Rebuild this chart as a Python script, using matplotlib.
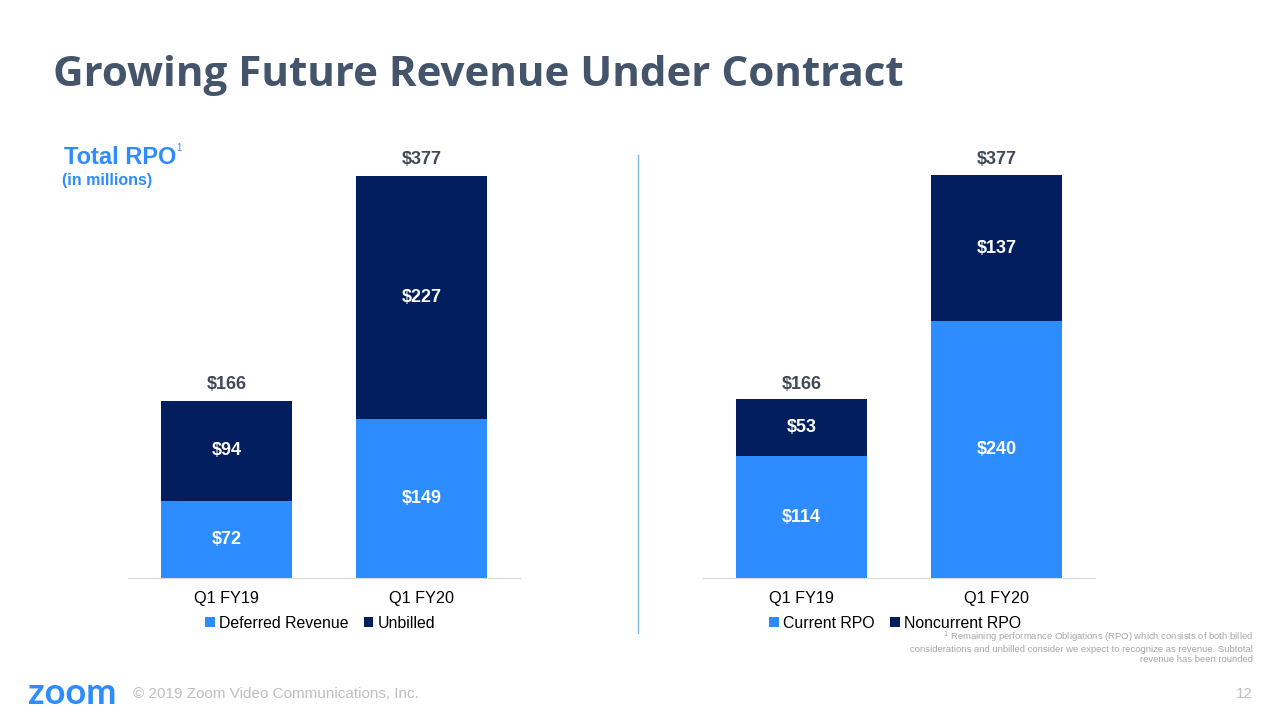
import numpy as np
import matplotlib.pyplot as plt

plt.rcParams['font.family'] = ['Liberation Sans', 'DejaVu Sans']

# データ（単位：百万ドル）
quarters = ["Q1 FY19", "Q1 FY20"]
deferred = [72, 149]
unbilled = [94, 227]
current_rpo = [114, 240]
noncurrent_rpo = [53, 137]
totals = [166, 377]

LIGHT = "#2D8CFF"
DARK = "#021E5E"
TOTAL_C = "#404A58"

fig = plt.figure(figsize=(12.8, 7.2), dpi=100)

fig.text(53/1280, 1 - 76/720, "Growing Future Revenue Under Contract",
         fontsize=30.3, fontweight="bold", color="#44546A",
         family=["Open Sans", "DejaVu Sans"], va="center", ha="left")

fig.text(64/1280, 1 - 158/720, "Total RPO", fontsize=17, fontweight="bold",
         color=LIGHT, va="center", ha="left")
fig.text(176/1280, 1 - 148/720, "1", fontsize=7, color=LIGHT, va="center")
fig.text(62/1280, 1 - 181/720, "(in millions)", fontsize=11.5, fontweight="bold",
         color=LIGHT, va="center", ha="left")


def panel(left_px, bottom_vals, top_vals, names):
    ax = fig.add_axes([left_px/1280, (720-578)/720, 392/1280, 427.6/720])
    x = np.arange(len(quarters))
    ax.bar(x, bottom_vals, width=0.667, color=LIGHT, label=names[0])
    ax.bar(x, top_vals, width=0.667, bottom=bottom_vals, color=DARK, label=names[1])
    for i in range(len(quarters)):
        ax.text(x[i], bottom_vals[i]/2, f"${bottom_vals[i]}", ha="center", va="center",
                color="white", fontsize=13, fontweight="bold")
        ax.text(x[i], bottom_vals[i] + top_vals[i]/2, f"${top_vals[i]}", ha="center",
                va="center", color="white", fontsize=13, fontweight="bold")
        ax.text(x[i], totals[i] + 7, f"${totals[i]}", ha="center", va="bottom",
                color=TOTAL_C, fontsize=13, fontweight="bold")
    ax.set_xlim(-0.505, 1.505)
    ax.set_ylim(0, 400)
    ax.set_xticks(x)
    ax.set_xticklabels(quarters, fontsize=11.7)
    ax.tick_params(axis="x", length=0, pad=9)
    ax.set_yticks([])
    for s in ["top", "right", "left"]:
        ax.spines[s].set_visible(False)
    ax.spines["bottom"].set_color("#D9D9D9")
    ax.legend(loc="upper center", bbox_to_anchor=(0.49, -0.063), ncol=2, frameon=False,
              fontsize=11.4, handlelength=0.6, handleheight=0.6, handletextpad=0.25,
              columnspacing=1.0, borderpad=0.2)
    return ax


panel(128, deferred, unbilled, ["Deferred Revenue", "Unbilled"])
panel(703, current_rpo, noncurrent_rpo, ["Current RPO", "Noncurrent RPO"])

# 区切り線
fig.add_artist(plt.Line2D([638/1280, 638/1280], [1 - 155/720, 1 - 633/720],
                          color="#7FB5E0", lw=1))

# 脚注
foot = ("$^{1}$ Remaining performance Obligations (RPO) which consists of both billed\n"
        "considerations and unbilled consider we expect to recognize as revenue. Subtotal\n"
        "revenue has been rounded")
fig.text(1253/1280, 1 - 629/720, foot, fontsize=6.8, color="#A6A6A6",
         ha="right", va="top", linespacing=1.2)

fig.text(28/1280, 1 - 693/720, "zoom", fontsize=26, fontweight="bold", color=LIGHT,
         family=["Lato", "DejaVu Sans"], ha="left", va="center")
fig.text(133/1280, 1 - 694/720, "© 2019 Zoom Video Communications, Inc.", fontsize=11,
         color="#BFBFBF", ha="left", va="center")
fig.text(1253/1280, 1 - 694/720, "12", fontsize=11, color="#BFBFBF",
         ha="right", va="center")

fig.savefig("out.png", dpi=100)
